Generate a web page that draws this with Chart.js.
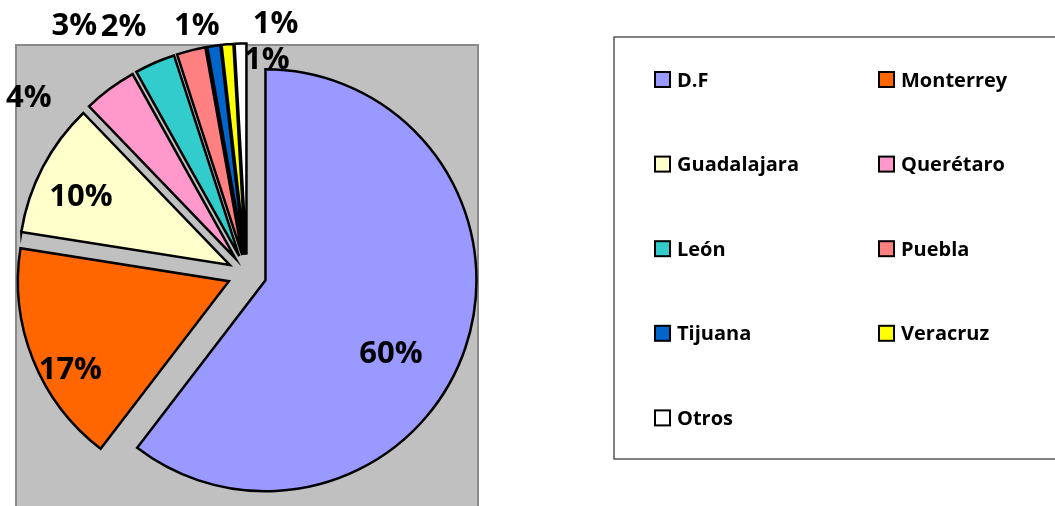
<!DOCTYPE html>
<html><head><meta charset="utf-8">
<script src="https://cdn.jsdelivr.net/npm/chart.js@4.4.1/dist/chart.umd.min.js"></script>
<style>html,body{margin:0;padding:0;background:#fff;overflow:hidden}#wrap{position:relative;width:1055px;height:506px}</style>
</head><body><div id="wrap"><canvas id="c"></canvas></div>
<script>
const categories = ['D.F','Monterrey','Guadalajara','Querétaro','León','Puebla','Tijuana','Veracruz','Otros'];
const shares = [60.4, 17.1, 10.3, 4.1, 3.1, 2.2, 1.0, 0.9, 0.9];
const sliceColors = ['#9999FF','#FF6600','#FFFFCC','#FF99CC','#33CCCC','#FF8080','#0066CC','#FFFF00','#FFFFFF'];
// label placement relative to each slice: [radius factor, angle shift in degrees]
const labelPlacement = [[0.776,9.7],[0.948,-6.2],[0.871,-2.1],[1.334,-14.3],[1.439,-11.1],[1.319,-12.3],[1.207,-3.1],[1.204,11.3],[1.026,6.9]];

const EXPLODE = 19.5;

// explode every slice by a uniform distance along its mid-angle
const origArcDraw = Chart.ArcElement.prototype.draw;
Chart.ArcElement.prototype.draw = function(ctx){
  const h = (this.startAngle + this.endAngle)/2;
  ctx.save();
  ctx.translate(Math.cos(h)*EXPLODE, Math.sin(h)*EXPLODE);
  origArcDraw.call(this, ctx);
  ctx.restore();
};

const plotBg = {
  id:'plotBg',
  beforeDraw(chart){
    const {ctx, chartArea:a} = chart;
    ctx.save();
    ctx.fillStyle = '#C0C0C0';
    ctx.fillRect(a.left, a.top, a.right-a.left, chart.height + 10 - a.top);
    ctx.strokeStyle = '#8A8A8A';
    ctx.lineWidth = 2;
    ctx.strokeRect(a.left, a.top, a.right-a.left, chart.height + 10 - a.top);
    ctx.restore();
  }
};

const pctLabels = {
  id:'pctLabels',
  afterDatasetsDraw(chart){
    const {ctx} = chart;
    const meta = chart.getDatasetMeta(0);
    const data = chart.data.datasets[0].data;
    const sum = data.reduce((a,b)=>a+b,0);
    const fs = 31;
    ctx.save();
    ctx.font = 'bold ' + fs + 'px "Open Sans"';
    ctx.fillStyle = '#000';
    ctx.textAlign = 'center';
    ctx.textBaseline = 'alphabetic';
    meta.data.forEach((arc,i)=>{
      const p = arc.getProps(['x','y','startAngle','endAngle','outerRadius'], true);
      const [rf, dd] = labelPlacement[i];
      const a = (p.startAngle + p.endAngle)/2 + dd*Math.PI/180;
      const px = p.x + rf*p.outerRadius*Math.cos(a);
      const py = p.y + rf*p.outerRadius*Math.sin(a);
      const txt = Math.round(data[i]/sum*100) + '%';
      ctx.fillText(txt, px, py + 0.357*fs);
    });
    ctx.restore();
  }
};

const boxLegend = {
  id:'boxLegend',
  afterDraw(chart){
    const {ctx} = chart;
    const box = {left:614, top:37, bottom:459, right:1070};
    ctx.save();
    ctx.strokeStyle = '#555';
    ctx.lineWidth = 1.5;
    ctx.strokeRect(box.left, box.top, box.right-box.left, box.bottom-box.top);
    const colX = [655, 879];
    const row0 = 79.5, rowStep = 84.6, sz = 15;
    ctx.font = 'bold 20px "Open Sans"';
    ctx.textAlign = 'left';
    ctx.textBaseline = 'alphabetic';
    const ds = chart.data.datasets[0];
    chart.data.labels.forEach((lab,i)=>{
      const cx = colX[i%2];
      const cy = row0 + Math.floor(i/2)*rowStep;
      ctx.fillStyle = ds.backgroundColor[i];
      ctx.fillRect(cx, cy - sz/2, sz, sz);
      ctx.strokeStyle = '#000';
      ctx.lineWidth = 2;
      ctx.strokeRect(cx, cy - sz/2, sz, sz);
      ctx.fillStyle = '#000';
      ctx.fillText(lab, cx + sz + 7, cy + 0.357*20);
    });
    ctx.restore();
  }
};

new Chart(document.getElementById('c'), {
  type:'pie',
  data:{
    labels: categories,
    datasets:[{
      data: shares,
      backgroundColor: sliceColors,
      borderColor:'#000',
      borderWidth:2.5,
      borderJoinStyle:'miter',
      radius: 211,
      offset: 0,
      hoverOffset: 0
    }]
  },
  options:{
    responsive:true,
    maintainAspectRatio:false,
    animation:false,
    events:[],
    radius: 211,
    layout:{padding:{left:16, right:577, top:45, bottom:3}},
    plugins:{legend:{display:false}, tooltip:{enabled:false}}
  },
  plugins:[plotBg, pctLabels, boxLegend]
});
</script>
</body></html>
